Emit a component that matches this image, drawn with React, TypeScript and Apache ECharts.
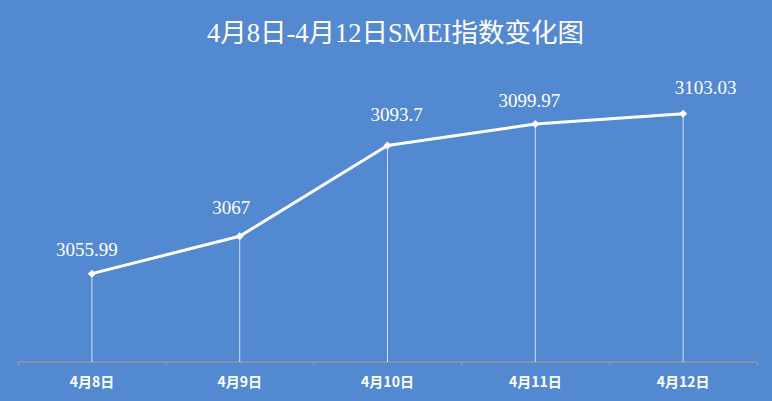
import React, { useEffect, useRef } from "react";
import * as echarts from "echarts";

const categories = ["4月8日", "4月9日", "4月10日", "4月11日", "4月12日"];
const values = [3055.99, 3067, 3093.7, 3099.97, 3103.03];
const titleText = "4月8日-4月12日SMEI指数变化图";

export default function App() {
  const ref = useRef<HTMLDivElement>(null);
  useEffect(() => {
    const chart = echarts.init(ref.current!, null, { renderer: "svg" });
    // label placement tweaks (styling only)
    const labelShift = [
      [-5, -24],
      [-8.5, -28.5],
      [9, -31],
      [-6, -23.5],
      [22.5, -26.5],
    ];
    const lineData = values.map((v, i) => ({
      value: v,
      label: { offset: labelShift[i] },
    }));
    chart.setOption({
      animation: false,
      backgroundColor: "#5389d1",
      title: {
        text: titleText,
        left: 202,
        top: 15,
        textStyle: {
          color: "#ffffff",
          fontSize: 26.5,
          fontWeight: "normal",
          fontFamily: "'Liberation Serif', 'Noto Sans CJK SC', serif",
        },
      },
      grid: { left: 18, right: 15, top: 90, bottom: 39 },
      xAxis: {
        type: "category",
        data: categories,
        boundaryGap: true,
        axisLine: { lineStyle: { color: "#8a97ad", width: 1.5 } },
        axisTick: { show: true, length: 4, lineStyle: { color: "#8a97ad" } },
        axisLabel: {
          color: "#ffffff",
          fontSize: 14,
          fontWeight: "bold",
          margin: 12,
          fontFamily: "'Noto Sans CJK SC', sans-serif",
        },
      },
      yAxis: {
        type: "value",
        min: 3030,
        max: 3110,
        show: false,
        splitLine: { show: false },
      },
      series: [
        {
          type: "bar",
          data: values,
          barWidth: 1,
          itemStyle: { color: "rgba(230,240,255,0.85)" },
          silent: true,
          z: 1,
        },
        {
          type: "line",
          data: lineData,
          symbol: "diamond",
          symbolSize: 8,
          lineStyle: { color: "#ffffff", width: 3 },
          itemStyle: { color: "#ffffff" },
          z: 3,
          label: {
            show: true,
            position: "inside",
            color: "#ffffff",
            fontSize: 19,
            fontFamily: "'Liberation Serif', 'Noto Sans CJK SC', serif",
          },
        },
      ],
    });
    return () => chart.dispose();
  }, []);
  return <div ref={ref} style={{ width: 772, height: 401, position: "absolute", left: 0, top: 0 }} />;
}
